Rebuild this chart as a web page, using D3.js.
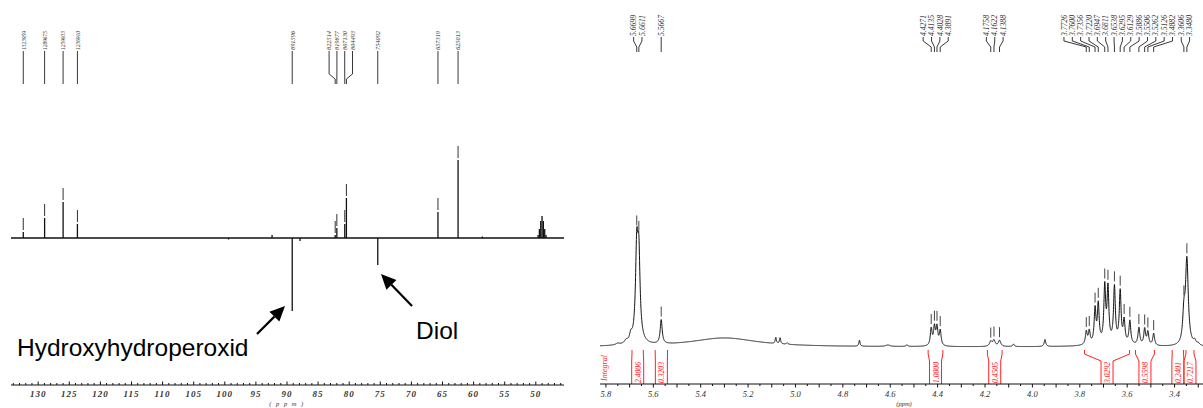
<!DOCTYPE html>
<html>
<head>
<meta charset="utf-8">
<script src="https://cdn.jsdelivr.net/npm/d3@7"></script>
<style>
  body { margin: 0; background: #fff; }
  svg { display: block; }
  .num { font-family: "Liberation Serif", "DejaVu Serif", serif; font-style: italic; }
  .note { font-family: "Liberation Sans", Arial, sans-serif; }
</style>
</head>
<body>
<svg id="chart" width="1203" height="408"></svg>
<script>
// ---------- 13C DEPT spectrum (ppm, signed intensity) ----------
const c13Shifts = [132.3959, 128.9675, 125.9933, 123.6910, 89.1596, 82.2514, 81.9877, 80.7130, 80.4493, 75.4092, 65.7319, 62.5013];
const c13Heights = [6, 20, 36, 14, -73, 3, 10, 14, 40, -27, 26, 78];
const c13Labels = ["1323959", "1289675", "1259933", "1236910", "891596", "822514", "819877", "807130", "804493", "754092", "657319", "625013"];
// solvent multiplet and small unassigned lines
const c13SolventShifts = [49.64, 49.43, 49.21, 49.00, 48.79, 48.57, 48.36];
const c13SolventHeights = [3, 9, 17, 22, 17, 9, 3];
const c13MinorShifts = [99.4, 92.4, 87.9, 58.6];
const c13MinorHeights = [-1.5, 3, -3, 1.5];
const c13Ticks = [130, 125, 120, 115, 110, 105, 100, 95, 90, 85, 80, 75, 70, 65, 60, 55, 50];

// ---------- 1H spectrum: picked peaks (ppm, height, half width in ppm) ----------
const h1Shifts = [5.6699, 5.6611, 5.5667, 4.4271, 4.4135, 4.4028, 4.3891, 4.1758, 4.1622, 4.1388,
  3.7726, 3.7600, 3.7356, 3.7220, 3.6947, 3.6811, 3.6538, 3.6295, 3.6129, 3.5886,
  3.5506, 3.5262, 3.5126, 3.4882, 3.3606, 3.3480];
const h1Heights = [86, 78, 24, 17, 18, 18, 15, 5, 6, 6,
  13, 13, 34, 38, 55, 53, 55, 51, 22, 23,
  17, 16, 13, 12, 28, 85];
const h1Widths = [0.006, 0.006, 0.005, 0.0045, 0.0045, 0.0045, 0.0045, 0.006, 0.006, 0.006,
  0.0045, 0.0045, 0.0045, 0.0045, 0.0045, 0.0045, 0.0045, 0.0045, 0.0045, 0.0045,
  0.0045, 0.0045, 0.0045, 0.0045, 0.006, 0.007];
// unpicked signals (small lines, broad exchange hump, broad bases)
const h1MinorShifts = [5.695, 5.715, 5.75, 5.665, 5.30, 5.083, 5.065, 5.035, 4.73, 4.61, 4.53, 4.08, 3.947, 3.66, 3.315, 3.30];
const h1MinorHeights = [7, 3, 1.5, 6, 9, 6, 6, 1.5, 6, 1.5, 1.5, 2.5, 7, 3, 4, 2];
const h1MinorWidths = [0.006, 0.008, 0.01, 0.02, 0.17, 0.003, 0.003, 0.004, 0.003, 0.01, 0.005, 0.004, 0.004, 0.08, 0.006, 0.006];
const h1Ticks = [5.8, 5.6, 5.4, 5.2, 5.0, 4.8, 4.6, 4.4, 4.2, 4.0, 3.8, 3.6, 3.4];

// integrals: region limits (ppm) and values
const intFrom = [5.690, 5.592, 4.440, 4.190, 3.780, 3.565, 3.410, 3.352];
const intTo   = [5.642, 5.540, 4.378, 4.128, 3.590, 3.485, 3.362, 3.318];
const intValues = ["2.4006", "0.3203", "1.0000", "0.4505", "3.0292", "0.5598", "0.2401", "0.7217"];

const svg = d3.select("#chart");
const RED = "#f22";

// spread crowded peak labels into evenly spaced groups centred over their peaks
function spreadLabels(xs, gap, maxX) {
  let groups = xs.map((x, i) => ({ idx: [i], c: x }));
  let changed = true;
  while (changed) {
    changed = false;
    for (let i = 0; i < groups.length - 1; i++) {
      const a = groups[i], b = groups[i + 1];
      const aR = a.c + (a.idx.length - 1) * gap / 2;
      const bL = b.c - (b.idx.length - 1) * gap / 2;
      if (bL - aR < gap) {
        const idx = a.idx.concat(b.idx);
        groups.splice(i, 2, { idx, c: d3.mean(idx, j => xs[j]) });
        changed = true;
        break;
      }
    }
  }
  const out = [];
  groups.forEach(g => {
    let left = g.c - (g.idx.length - 1) * gap / 2;
    const right = left + (g.idx.length - 1) * gap;
    if (right > maxX) left -= right - maxX;
    g.idx.forEach((j, k) => { out[j] = left + k * gap; });
  });
  return out;
}

function drawPeakLabels(g, peakXs, texts, opt) {
  const lx = spreadLabels(peakXs, opt.gap, opt.maxX);
  peakXs.forEach((px, i) => {
    g.append("path")
      .attr("d", `M${lx[i]},${opt.y0}L${lx[i]},${opt.y1}L${px},${opt.y2}L${px},${opt.y3}`)
      .attr("fill", "none").attr("stroke", "#222").attr("stroke-width", 0.9);
    g.append("text").attr("class", "num")
      .attr("transform", `translate(${lx[i] + opt.size * 0.33},${opt.y0 - 1}) rotate(-90)`)
      .attr("font-size", opt.size)
      .attr("textLength", opt.len).attr("lengthAdjust", "spacingAndGlyphs")
      .attr("fill", "#333")
      .text(texts[i]);
  });
}

// ===================== 13C panel =====================
const x13 = d3.scaleLinear().domain([134.37, 45.47]).range([11, 564]);
const y13 = d3.scaleLinear().domain([-100, 100]).range([338, 138]);
const gC = svg.append("g");

// baseline
gC.append("path")
  .attr("d", d3.line()([[x13(134.37), y13(0)], [x13(45.47), y13(0)]]))
  .attr("stroke", "#111").attr("stroke-width", 1.3);

// resonance lines
const c13All = c13Shifts.map((s, i) => [s, c13Heights[i]])
  .concat(c13SolventShifts.map((s, i) => [s, c13SolventHeights[i]]))
  .concat(c13MinorShifts.map((s, i) => [s, c13MinorHeights[i]]));
gC.selectAll("line.pk").data(c13All).join("line").attr("class", "pk")
  .attr("x1", d => x13(d[0])).attr("x2", d => x13(d[0]))
  .attr("y1", y13(0)).attr("y2", d => y13(d[1]))
  .attr("stroke", "#111").attr("stroke-width", 1.3);

// peak-pick markers above positive lines
gC.selectAll("line.mk").data(c13Shifts.map((s, i) => [s, c13Heights[i]]).filter(d => d[1] > 0))
  .join("line").attr("class", "mk")
  .attr("x1", d => x13(d[0])).attr("x2", d => x13(d[0]))
  .attr("y1", d => y13(d[1]) - 2).attr("y2", d => y13(d[1]) - 14)
  .attr("stroke", "#333").attr("stroke-width", 1);

drawPeakLabels(gC, c13Shifts.map(s => x13(s)), c13Labels,
  { gap: 7.8, maxX: 560, y0: 51, y1: 74, y2: 79, y3: 84, size: 7, len: 19 });

// axis
const ax13 = gC.append("g");
ax13.append("line").attr("x1", 11).attr("x2", 564).attr("y1", 385).attr("y2", 385)
  .attr("stroke", "#111").attr("stroke-width", 1);
const c13Minor = d3.range(45, 135, 1).filter(v => x13(v) >= 11 && x13(v) <= 564);
ax13.selectAll("line.t").data(c13Minor).join("line").attr("class", "t")
  .attr("x1", d => x13(d)).attr("x2", d => x13(d))
  .attr("y1", 385).attr("y2", d => 385 - (d % 5 === 0 ? 3.5 : 2))
  .attr("stroke", "#111").attr("stroke-width", 1);
ax13.selectAll("text.tl").data(c13Ticks).join("text").attr("class", "num tl")
  .attr("x", d => x13(d)).attr("y", 397)
  .attr("text-anchor", "middle").attr("font-size", 9).attr("font-weight", "bold")
  .attr("letter-spacing", 1).attr("fill", "#333")
  .text(d => d);
ax13.append("text").attr("class", "num").attr("x", 287).attr("y", 406)
  .attr("text-anchor", "middle").attr("font-size", 6.5).attr("letter-spacing", 1.5)
  .attr("fill", "#333").text("( p p m )");

// annotations
function arrow(g, x0, y0, x1, y1) {
  const a = Math.atan2(y1 - y0, x1 - x0), L = 15, Wd = 7;
  const bx = x1 - L * Math.cos(a), by = y1 - L * Math.sin(a);
  g.append("line").attr("x1", x0).attr("y1", y0).attr("x2", bx).attr("y2", by)
    .attr("stroke", "#000").attr("stroke-width", 2.2);
  const px = -Math.sin(a) * Wd, py = Math.cos(a) * Wd;
  g.append("path").attr("d", `M${x1},${y1}L${bx + px},${by + py}L${bx - px},${by - py}Z`).attr("fill", "#000");
}
arrow(gC, 257, 334, 285, 306);
arrow(gC, 412, 306, 381, 274);
gC.append("text").attr("class", "note").attr("x", 17).attr("y", 356)
  .attr("font-size", 24.5).attr("fill", "#000").text("Hydroxyhydroperoxid");
gC.append("text").attr("class", "note").attr("x", 416).attr("y", 339)
  .attr("font-size", 24.5).attr("fill", "#000").text("Diol");

// ===================== 1H panel =====================
const x1 = d3.scaleLinear().domain([5.825, 3.28]).range([600, 1203]);
const y1 = d3.scaleLinear().domain([-50, 150]).range([397, 197]);
const gH = svg.append("g");

const h1All = h1Shifts.map((s, i) => [s, h1Heights[i], h1Widths[i]])
  .concat(h1MinorShifts.map((s, i) => [s, h1MinorHeights[i], h1MinorWidths[i]]));
const spec = p => d3.sum(h1All, d => d[1] / (1 + ((p - d[0]) / d[2]) ** 2));
const grid = d3.range(3.28, 5.8251, 0.0005);
gH.append("path")
  .attr("d", d3.line().x(p => x1(p)).y(p => y1(spec(p)))(grid))
  .attr("fill", "none").attr("stroke", "#111").attr("stroke-width", 1);

// peak-pick markers
gH.selectAll("line.mk").data(h1Shifts).join("line").attr("class", "mk")
  .attr("x1", d => x1(d)).attr("x2", d => x1(d))
  .attr("y1", d => y1(spec(d)) - 3).attr("y2", d => y1(spec(d)) - 13)
  .attr("stroke", "#444").attr("stroke-width", 1);

drawPeakLabels(gH, h1Shifts.map(s => x1(s)), h1Shifts.map(s => s.toFixed(4)),
  { gap: 8.35, maxX: 1199, y0: 37, y1: 41, y2: 47, y3: 52, size: 8, len: 21 });

// integral brackets
const gI = gH.append("g");
intValues.forEach((v, i) => {
  const xa = x1(intFrom[i]), xb = x1(intTo[i]), xc = (xa + xb) / 2, bw = 6;
  gI.append("path")
    .attr("d", `M${xa},350L${xa},354L${xc - bw},361L${xc - bw},384M${xb},350L${xb},354L${xc + bw},361L${xc + bw},384`)
    .attr("fill", "none").attr("stroke", RED).attr("stroke-width", 1);
  gI.append("text").attr("class", "num")
    .attr("transform", `translate(${xc + 3},372.5) rotate(-90)`)
    .attr("text-anchor", "middle").attr("font-size", 8)
    .attr("textLength", 21).attr("lengthAdjust", "spacingAndGlyphs")
    .attr("fill", RED).text(v);
});
gI.append("text").attr("class", "num")
  .attr("transform", "translate(607,368) rotate(-90)")
  .attr("text-anchor", "middle").attr("font-size", 8)
  .attr("fill", RED).text("Integral");

// axis
const ax1 = gH.append("g");
ax1.append("line").attr("x1", 600).attr("x2", 1203).attr("y1", 384).attr("y2", 384)
  .attr("stroke", "#111").attr("stroke-width", 1);
const h1Minor = d3.range(3.30, 5.82, 0.05).map(v => +v.toFixed(2));
ax1.selectAll("line.t").data(h1Minor).join("line").attr("class", "t")
  .attr("x1", d => x1(d)).attr("x2", d => x1(d))
  .attr("y1", 384).attr("y2", d => 384 + (Math.abs(d * 10 - Math.round(d * 10)) < 1e-6 ? 3.5 : 2))
  .attr("stroke", "#111").attr("stroke-width", 1);
ax1.selectAll("text.tl").data(h1Ticks).join("text").attr("class", "num tl")
  .attr("x", d => x1(d)).attr("y", 397)
  .attr("text-anchor", "middle").attr("font-size", 8.5)
  .attr("fill", "#333").text(d => d.toFixed(1));
ax1.append("text").attr("class", "num").attr("x", 904).attr("y", 406)
  .attr("text-anchor", "middle").attr("font-size", 6.5)
  .attr("fill", "#333").text("(ppm)");
</script>
</body>
</html>
